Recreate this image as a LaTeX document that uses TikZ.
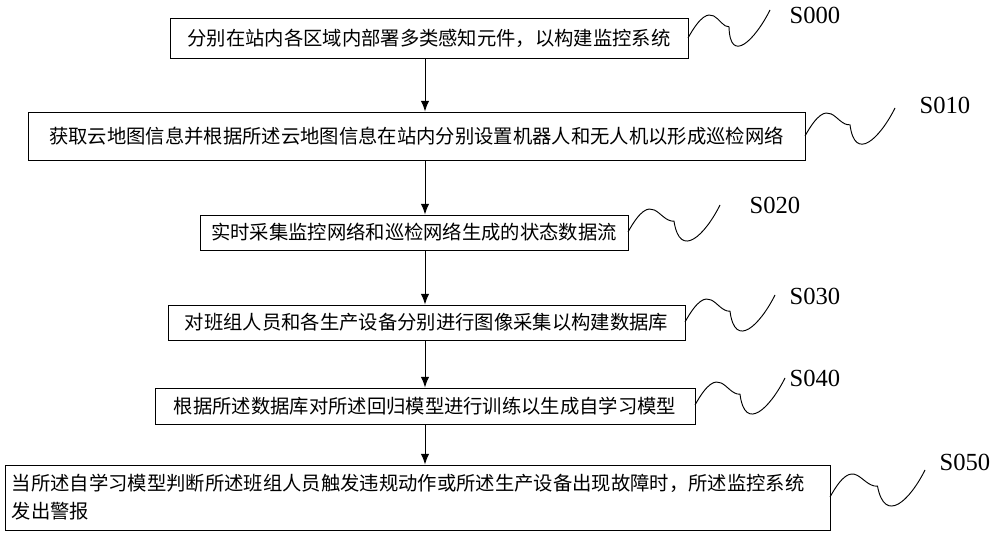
\documentclass[tikz,border=0pt]{standalone}
\usepackage{fontspec}
\usetikzlibrary{arrows.meta}
\setmainfont{Liberation Serif}
\newfontfamily\cjk{Noto Sans CJK SC}
\tikzset{
stepbox/.style={draw, thick, rectangle, font=\cjk\fontsize{16.5}{24}\selectfont, inner sep=0pt},
lbl/.style={font=\fontsize{21}{24}\selectfont},
flow/.style={thick,-{Latex[length=9pt,width=7pt]}},
wave/.style={thick}
}
\begin{document}
\begin{tikzpicture}[x=0.03cm,y=-0.03cm]
\useasboundingbox (0,0) rectangle (1000,539);
% steps
\node[stepbox, minimum width=518*0.03cm, minimum height=40*0.03cm] (s0) at (429,38) {分别在站内各区域内部署多类感知元件，以构建监控系统};
\node[stepbox, minimum width=777*0.03cm, minimum height=48*0.03cm] (s1) at (416.5,136) {获取云地图信息并根据所述云地图信息在站内分别设置机器人和无人机以形成巡检网络};
\node[stepbox, minimum width=428*0.03cm, minimum height=35*0.03cm] (s2) at (414,232.5) {实时采集监控网络和巡检网络生成的状态数据流};
\node[stepbox, minimum width=517*0.03cm, minimum height=35*0.03cm] (s3) at (426.5,322.5) {对班组人员和各生产设备分别进行图像采集以构建数据库};
\node[stepbox, minimum width=540*0.03cm, minimum height=36*0.03cm] (s4) at (425,406) {根据所述数据库对所述回归模型进行训练以生成自学习模型};
\node[stepbox, minimum width=825*0.03cm, minimum height=65*0.03cm, text width=811*0.03cm, align=left] (s5) at (417.5,497.5) {当所述自学习模型判断所述班组人员触发违规动作或所述生产设备出现故障时，所述监控系统\\发出警报};
% arrows
\coordinate (x) at (425,0);
\draw[flow] (x |- s0.south) -- (x |- s1.north);
\draw[flow] (x |- s1.south) -- (x |- s2.north);
\draw[flow] (x |- s2.south) -- (x |- s3.north);
\draw[flow] (x |- s3.south) -- (x |- s4.north);
\draw[flow] (x |- s4.south) -- (x |- s5.north);
% labels
\node[lbl] (l0) at (815,15) {S000};
\node[lbl] (l1) at (945,105) {S010};
\node[lbl] (l2) at (775,205) {S020};
\node[lbl] (l3) at (815,296) {S030};
\node[lbl] (l4) at (815,378) {S040};
\node[lbl] (l5) at (965,462) {S050};
\foreach \bx/\by/\ex/\ey in {688/38/770/10, 805/136/895/108, 628/232/720/205, 685/322/775/295, 695/405/785/378, 830/497/925/470}
  \draw[wave] (\bx,\by) .. controls ({\bx+25},{\by-45}) and ({\bx+30},{\by-10}) .. ({\bx+(\ex-\bx)*0.5},{\by+(\ey-\by)*0.4})
    .. controls ({\ex-40},{\ey+55}) and ({\ex-15},{\ey+30}) .. (\ex,\ey);
\end{tikzpicture}
\end{document}
